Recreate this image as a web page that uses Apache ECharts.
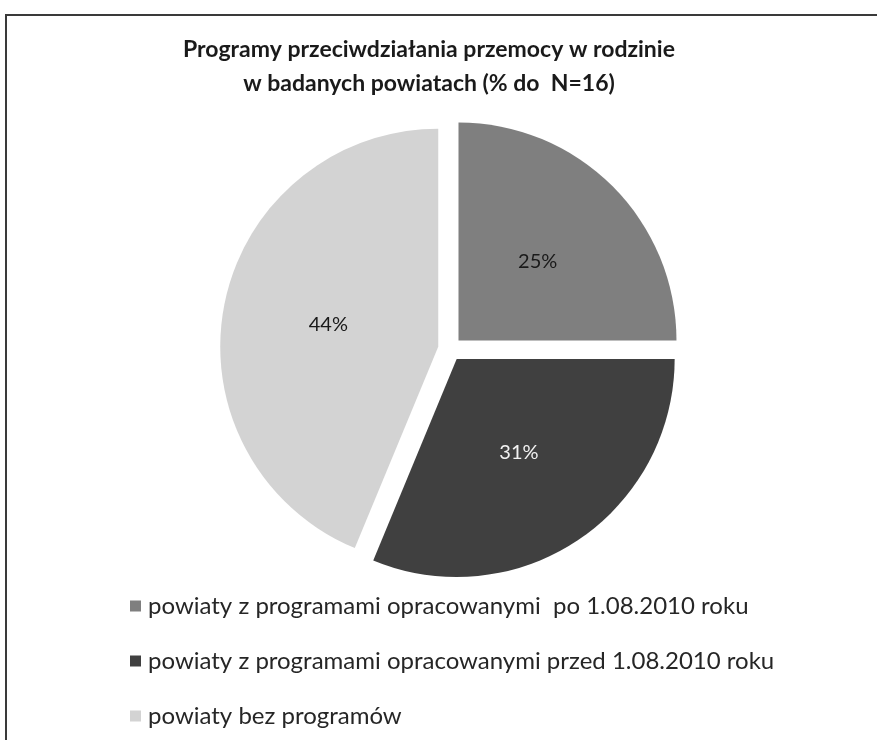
<!DOCTYPE html>
<html>
<head>
<meta charset="utf-8">
<script src="https://cdn.jsdelivr.net/npm/echarts@6/dist/echarts.min.js"></script>
<style>
html,body{margin:0;padding:0;background:#fff;}
#chart{width:877px;height:740px;}
</style>
</head>
<body>
<div id="chart"></div>
<script>
const titleText = 'Programy przeciwdziałania przemocy w rodzinie\nw badanych powiatach (% do  N=16)';
const categories = [
  'powiaty z programami opracowanymi  po 1.08.2010 roku',
  'powiaty z programami opracowanymi przed 1.08.2010 roku',
  'powiaty bez programów'
];
const counts = [4, 5, 7];
const colors = ['#7f7f7f', '#404040', '#d3d3d3'];
const labelColors = ['#1a1a1a', '#f2f2f2', '#1a1a1a'];

const chart = echarts.init(document.getElementById('chart'));
const font = 'Lato, "Open Sans", sans-serif';
chart.setOption({
  backgroundColor: '#ffffff',
  animation: false,
  title: {
    text: titleText,
    left: 424,
    textAlign: 'center',
    top: 28,
    textStyle: {fontFamily: font, fontSize: 23, fontWeight: 'bold', color: '#1a1a1a', lineHeight: 34}
  },
  graphic: [{
    type: 'rect',
    shape: {x: 6, y: 15, width: 1000, height: 1000},
    style: {fill: 'none', stroke: '#3a3a3a', lineWidth: 2},
    silent: true
  }],
  legend: {
    orient: 'vertical',
    left: 125,
    top: 589,
    itemWidth: 11,
    itemHeight: 11,
    itemGap: 31,
    icon: 'rect',
    selectedMode: false,
    textStyle: {fontFamily: font, fontSize: 24, color: '#262626', padding: [0,0,0,2]},
    data: categories
  },
  series: [{
    type: 'pie',
    center: [450, 349],
    radius: 218,
    startAngle: 90,
    clockwise: true,
    selectedMode: 'multiple',
    selectedOffset: 12,
    emphasis: {disabled: true},
    label: {
      position: 'inside',
      formatter: p => Math.round(p.percent) + '%',
      fontFamily: font,
      fontSize: 20
    },
    labelLine: {show: false},
    data: categories.map((c, i) => ({
      name: c,
      value: counts[i],
      selected: true,
      itemStyle: {color: colors[i]},
      label: {color: labelColors[i]}
    }))
  }]
});
</script>
</body>
</html>
